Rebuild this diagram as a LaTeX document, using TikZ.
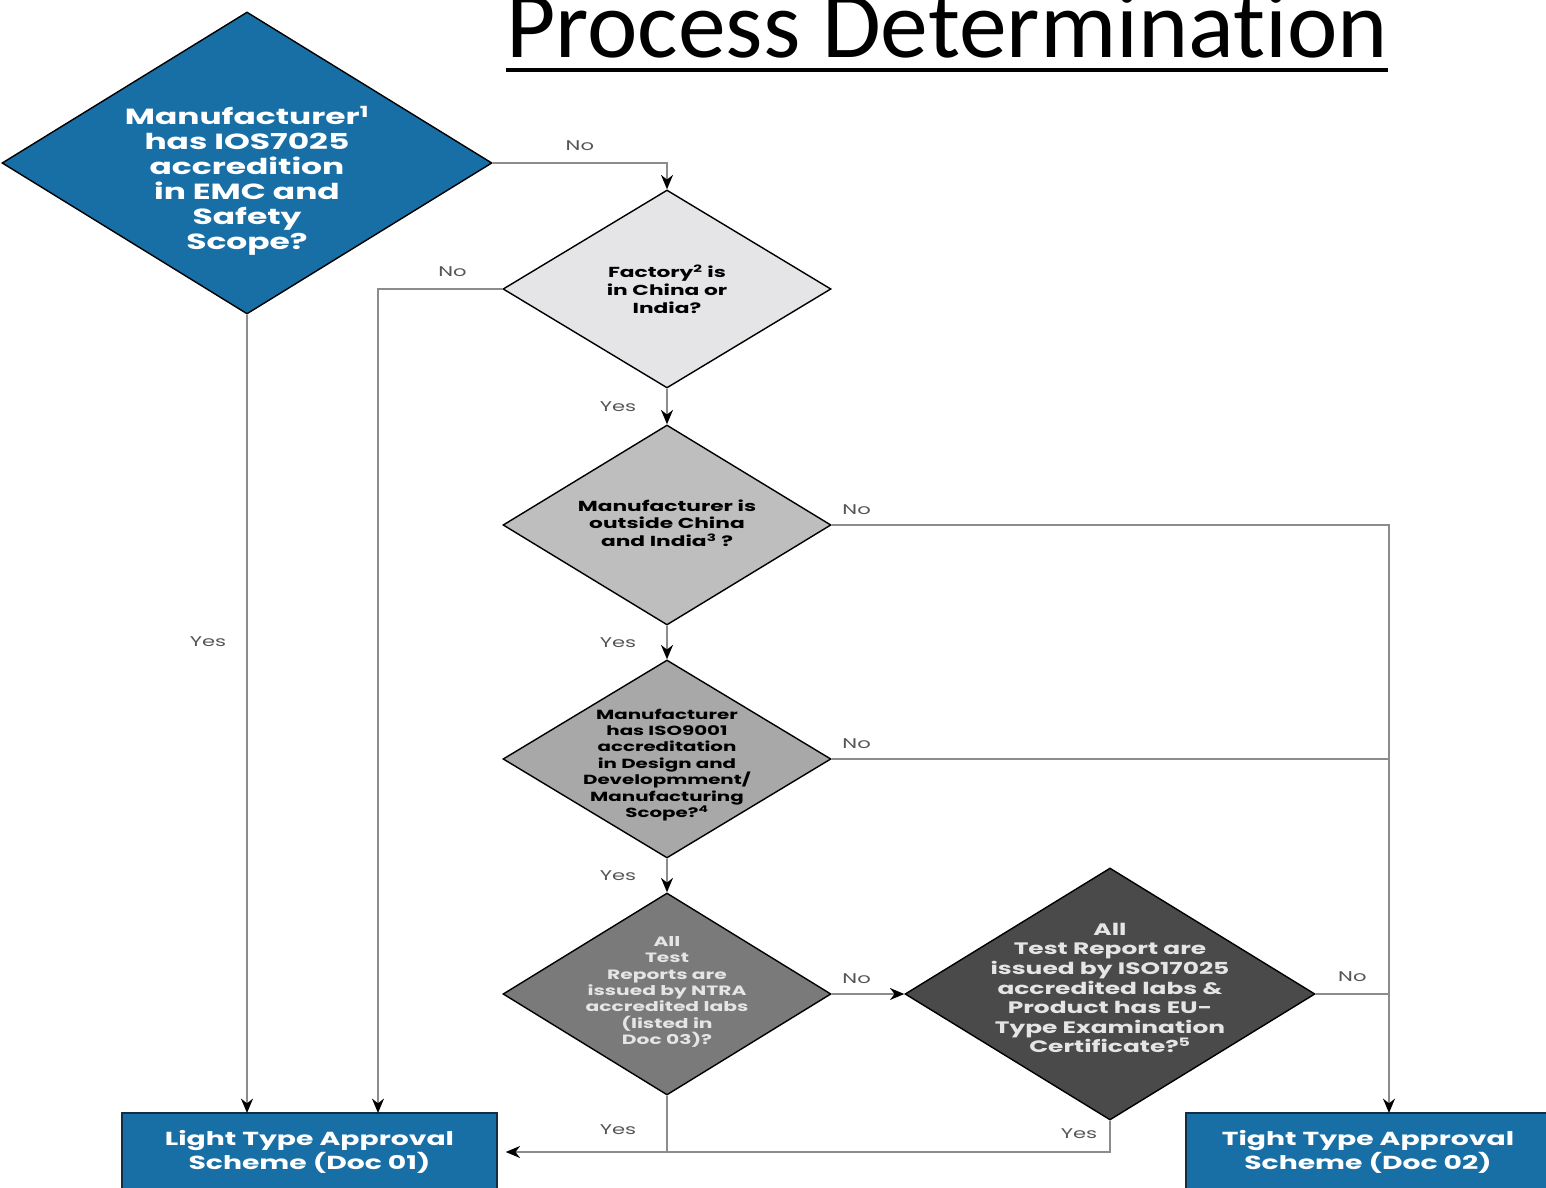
\documentclass[tikz,border=0pt]{standalone}
\usepackage{fontspec}
\newfontfamily\titlefont{Carlito}[Ligatures=NoCommon]
\newfontfamily\gothic{Poppins}[FakeStretch=1.5]
\usetikzlibrary{shapes.geometric,arrows.meta}
\definecolor{appblue}{RGB}{24,111,166}
\definecolor{schemeedge}{RGB}{20,45,70}
\definecolor{greyA}{RGB}{229,229,232}
\definecolor{greyB}{RGB}{190,190,190}
\definecolor{greyC}{RGB}{168,168,168}
\definecolor{greyD}{RGB}{122,122,122}
\definecolor{greyE}{RGB}{74,74,74}
\definecolor{linegray}{RGB}{140,140,140}
\definecolor{taggray}{RGB}{85,85,85}
\begin{document}
\begin{tikzpicture}[x=0.25mm,y=-0.25mm]

\tikzstyle{decision}=[diamond, draw=black, line width=1pt, inner sep=0pt]
\tikzstyle{qtext}=[align=center, inner sep=0pt]
\tikzstyle{scheme}=[rectangle, draw=schemeedge, fill=appblue, line width=1pt, minimum height=19.5mm, inner sep=0pt]
\tikzstyle{line}=[draw=linegray, line width=1.1pt]
\tikzstyle{arrow}=[line, -{Stealth[black,length=3.6mm,width=3mm]}]
\tikzstyle{tag}=[font=\gothic\fontsize{10}{12}\selectfont, text=taggray, inner sep=0pt]

\useasboundingbox (0,0) rectangle (1546,1188);

\node (title) [font=\titlefont\fontsize{68}{80}\selectfont, anchor=base, inner sep=0pt] at (947,58) {Process Determination};
\draw [line width=1mm] ([yshift=-3mm]title.base west) -- ([yshift=-3mm]title.base east);

\node (q1) [decision, fill=appblue, minimum width=122.5mm, minimum height=75.5mm] at (247,163) {};
\node (q2) [decision, fill=greyA, minimum width=82mm, minimum height=49.5mm] at (667,289) {};
\node (q3) [decision, fill=greyB, minimum width=82mm, minimum height=50mm] at (667,525) {};
\node (q4) [decision, fill=greyC, minimum width=82mm, minimum height=49.5mm] at (667,759) {};
\node (q5) [decision, fill=greyD, minimum width=82mm, minimum height=50.5mm] at (667,994) {};
\node (q6) [decision, fill=greyE, minimum width=102.5mm, minimum height=63mm] at (1110,994) {};

\node (q1t) [qtext, text=white, font=\gothic\bfseries\fontsize{15.6}{17.8}\selectfont] at (247,181)
  {Manufacturer\textsuperscript{1}\\has IOS7025\\accredition\\in EMC and\\Safety\\Scope?};
\node (q2t) [qtext, font=\gothic\bfseries\fontsize{10.3}{12.8}\selectfont] at (667,289)
  {Factory\textsuperscript{2} is\\in China or\\India?};
\node (q3t) [qtext, font=\gothic\bfseries\fontsize{10.3}{12.4}\selectfont] at (667,523)
  {Manufacturer is\\outside China\\and India\textsuperscript{3} ?};
\node (q4t) [qtext, font=\gothic\bfseries\fontsize{9.4}{11.7}\selectfont] at (667,765)
  {Manufacturer\\has ISO9001\\accreditation\\in Design and\\Developmment/\\Manufacturing\\Scope?\textsuperscript{4}};
\node (q5t) [qtext, text=white!90!black, font=\gothic\bfseries\fontsize{9.6}{11.6}\selectfont] at (667,992)
  {All\\Test\\Reports are\\issued by NTRA\\accredited labs\\(listed in\\Doc 03)?};
\node (q6t) [qtext, text=white!90!black, font=\gothic\bfseries\fontsize{11.8}{13.9}\selectfont] at (1110,988)
  {All\\Test Report are\\issued by ISO17025\\accredited labs \&\\Product has EU-\\Type Examination\\Certificate?\textsuperscript{5}};

\node (light) [scheme, minimum width=93.75mm, text=white, align=center, font=\gothic\bfseries\fontsize{13.4}{15.6}\selectfont] at (309.5,1152)
  {Light Type Approval\\Scheme (Doc 01)};
\node (tight) [scheme, minimum width=91mm, text=white, align=center, font=\gothic\bfseries\fontsize{13.4}{15.6}\selectfont] at (1368,1152)
  {Tight Type Approval\\Scheme (Doc 02)};

\coordinate (lightin) at (378,1113);
\coordinate (tightin) at (1389,1113);

\draw [arrow] (q1.east) -| node[tag, pos=0.25, above=3mm] {No} (q2.north);
\draw [arrow] (q1.south) -- node[tag, pos=0.41, left=5mm] {Yes} (q1.south |- lightin);
\draw [arrow] (q2.west) -| node[tag, pos=0.2, above=3mm] {No} (lightin);
\draw [arrow] (q2.south) -- node[tag, left=7.5mm] {Yes} (q3.north);
\draw [arrow] (q3.south) -- node[tag, left=7.5mm] {Yes} (q4.north);
\draw [arrow] (q4.south) -- node[tag, left=7.5mm] {Yes} (q5.north);
\draw [arrow] (q3.east) -| node[tag, at start, anchor=south west, xshift=2.5mm, yshift=2.5mm] {No} (tightin);
\draw [line] (q4.east) -- node[tag, at start, anchor=south west, xshift=2.5mm, yshift=2.5mm] {No} (q4.east -| tightin);
\draw [arrow] (q5.east) -- node[tag, at start, anchor=south west, xshift=2.5mm, yshift=2.5mm] {No} (q6.west);
\draw [line] (q6.east) -- node[tag, midway, above=3mm] {No} (q6.east -| tightin);
\draw [line] (q5.south) -- node[tag, pos=0.61, left=7.5mm] {Yes} (q5.south |- light.east);
\draw [arrow, shorten >=2mm] (q6.south) |- node[tag, pos=0.2, left=3mm] {Yes} (light.east);

\end{tikzpicture}
\end{document}
